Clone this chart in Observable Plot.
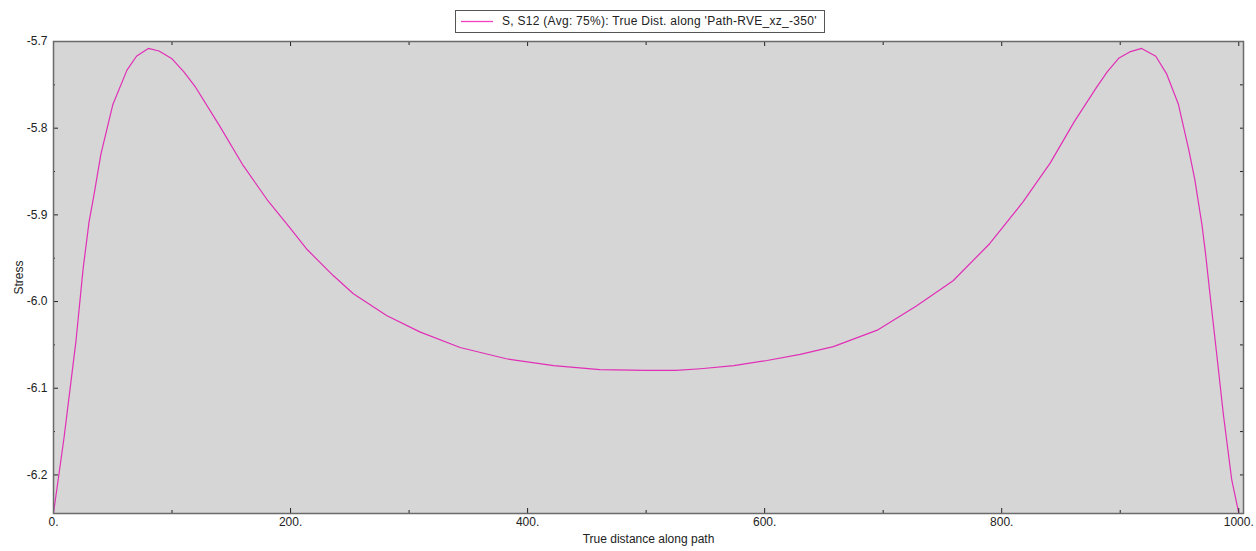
<!DOCTYPE html>
<html>
<head>
<meta charset="utf-8">
<script src="https://cdn.jsdelivr.net/npm/d3@7"></script>
<script src="https://cdn.jsdelivr.net/npm/@observablehq/plot@0.6"></script>
<style>
  html, body { margin: 0; padding: 0; background: #ffffff; }
  #wrap { position: relative; width: 1256px; height: 551px; }
  #legend {
    position: absolute; left: 455px; top: 10px; width: 370px; height: 23px;
    border: 1px solid #555; background: #fff; box-sizing: border-box;
    font-family: "Liberation Sans", Arial, sans-serif; font-size: 12px; color: #222;
    letter-spacing: 0.28px;
  }
  #legend svg { position: absolute; left: 5px; top: 9px; }
  #legendText { position: absolute; left: 46px; top: 3px; white-space: nowrap; }
</style>
</head>
<body>
<div id="wrap">
  <div id="legend"><svg width="32" height="3"><line x1="0" y1="1.5" x2="32" y2="1.5" stroke="#f040c4" stroke-width="1.3"/></svg><span id="legendText"></span></div>
</div>
<script>
// ---- data ----
const seriesName = "S, S12 (Avg: 75%): True Dist. along 'Path-RVE_xz_-350'";
const xLabel = "True distance along path";
const yLabel = "Stress";

const distance = [0, 9, 14.5, 19, 25, 30, 34, 40, 50, 62, 70, 80, 89, 100, 110, 120, 140, 160, 180, 200,
  214, 236, 253, 281, 309, 343, 382, 422, 461, 500, 525, 546, 574, 602, 630, 658, 695, 728, 759, 790,
  818, 841, 861, 880, 889, 899, 908, 918, 930, 939, 949, 958, 963, 969, 972, 976, 982, 987, 994, 1000];
const stress = [-6.244, -6.156, -6.095, -6.045, -5.962, -5.908, -5.878, -5.830, -5.773, -5.733, -5.717, -5.708, -5.711, -5.720, -5.735, -5.753, -5.797, -5.843, -5.882, -5.916,
  -5.940, -5.970, -5.991, -6.016, -6.035, -6.053, -6.066, -6.074, -6.0785, -6.0795, -6.0795, -6.0775, -6.074, -6.068, -6.061, -6.052, -6.033, -6.005, -5.976, -5.933,
  -5.885, -5.840, -5.793, -5.753, -5.735, -5.719, -5.712, -5.708, -5.717, -5.737, -5.772, -5.826, -5.860, -5.912, -5.945, -5.995, -6.068, -6.130, -6.205, -6.244];

const xMajor = [0, 200, 400, 600, 800, 1000];
const xMinor = [100, 300, 500, 700, 900];
const yMajor = [-5.7, -5.8, -5.9, -6.0, -6.1, -6.2];
const yMinor = [-5.75, -5.85, -5.95, -6.05, -6.15];

const data = distance.map((d, i) => ({distance: d, stress: stress[i]}));
const lineColor = "#e02fb6";
const frameColor = "#6a6a6a";
const tickColor = "#222";

document.getElementById("legendText").textContent = seriesName;

const chart = Plot.plot({
  width: 1256,
  height: 551,
  marginLeft: 53,
  marginRight: 13,
  marginTop: 41,
  marginBottom: 38,
  style: {fontFamily: "'Liberation Sans', Arial, sans-serif", fontSize: "12px", color: "#222", background: "transparent"},
  x: {domain: [0, 1004]},
  y: {domain: [-6.2445, -5.7]},
  marks: [
    Plot.frame({fill: "#d6d6d6", stroke: null}),
    Plot.line(data, {x: "distance", y: "stress", stroke: lineColor, strokeWidth: 1.2}),
    Plot.axisX(xMajor, {anchor: "bottom", tickSize: -5, tickPadding: 9, stroke: tickColor, tickFormat: d => d + ".",
      label: xLabel, labelAnchor: "center", labelArrow: "none", labelOffset: 29}),
    Plot.axisX(xMinor, {anchor: "bottom", tickSize: -3, stroke: tickColor, tickFormat: () => "", label: null}),
    Plot.axisX(xMajor, {anchor: "top", tickSize: -4, stroke: tickColor, tickFormat: () => "", label: null}),
    Plot.axisX(xMinor, {anchor: "top", tickSize: -3, stroke: tickColor, tickFormat: () => "", label: null}),
    Plot.axisY(yMajor, {anchor: "left", tickSize: -5, tickPadding: 11, stroke: tickColor, tickFormat: d => d.toFixed(1),
      label: yLabel, labelAnchor: "center", labelArrow: "none", labelOffset: 39}),
    Plot.axisY(yMinor, {anchor: "left", tickSize: -2, stroke: tickColor, tickFormat: () => "", label: null}),
    Plot.axisY(yMajor, {anchor: "right", tickSize: -4, stroke: tickColor, tickFormat: () => "", label: null}),
    Plot.axisY(yMinor, {anchor: "right", tickSize: -4, stroke: tickColor, tickFormat: () => "", label: null}),
    Plot.frame({stroke: frameColor, strokeWidth: 1.5})
  ]
});
chart.style.position = "absolute";
chart.style.left = "0";
chart.style.top = "0";
document.getElementById("wrap").prepend(chart);
</script>
</body>
</html>
